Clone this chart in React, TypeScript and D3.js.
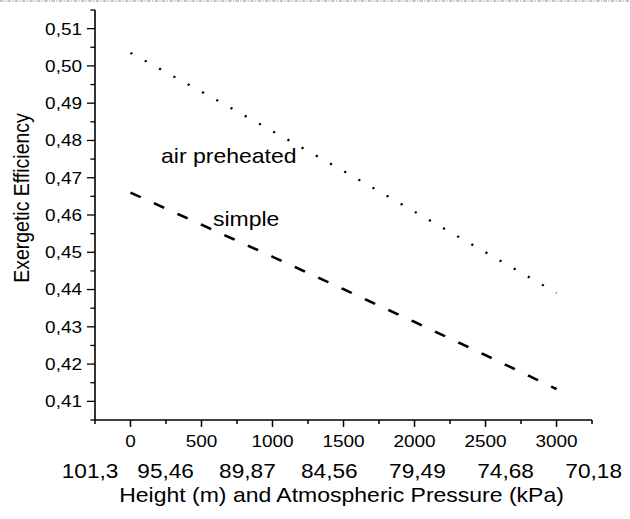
import React from 'react';
import * as d3 from 'd3';

const heights = [0, 500, 1000, 1500, 2000, 2500, 3000];
const airPreheated = [0.5035, 0.4931, 0.4825, 0.4718, 0.4609, 0.45, 0.4391];
const simple = [0.466, 0.4574, 0.4488, 0.4401, 0.4313, 0.4224, 0.4133];
const xMajorTicks = [0, 500, 1000, 1500, 2000, 2500, 3000];
const xMinorTicks = [-250, 250, 750, 1250, 1750, 2250, 2750, 3250];
const yMajorTicks = [0.41, 0.42, 0.43, 0.44, 0.45, 0.46, 0.47, 0.48, 0.49, 0.5, 0.51];
const yMinorTicks = [0.405, 0.415, 0.425, 0.435, 0.445, 0.455, 0.465, 0.475, 0.485, 0.495, 0.505, 0.515];
const pressureRow = '101,3   95,46    89,87    84,56     79,49     74,68     70,18';
const xTitle = 'Height (m) and Atmospheric Pressure (kPa)';
const yTitle = 'Exergetic Efficiency';
const seriesLabels = ['air preheated', 'simple'];

const SX = 1.15;
const VW = 630 / SX;
const FONT = '"Liberation Sans", Arial, sans-serif';

export default function App() {
  const x = d3.scaleLinear().domain([-250, 3250]).range([82.6, 514.8]);
  const y = d3.scaleLinear().domain([0.405, 0.515]).range([420, 10]);
  const line = d3
    .line<number>()
    .x((_, i) => x(heights[i]))
    .y((d) => y(d));
  const fmt = (v: number) => d3.format('.2f')(v).replace('.', ',');
  const x0 = x.range()[0];
  const x1 = x.range()[1];
  const yB = y.range()[0];
  const yT = y.range()[1];

  return (
    <svg
      width={630}
      height={519}
      viewBox={`0 0 ${VW} 519`}
      preserveAspectRatio="none"
      style={{ position: 'absolute', left: 0, top: 0, background: '#fff' }}
      fontFamily={FONT}
    >
      <rect x={0} y={0} width={VW} height={519} fill="#fff" />
      <line x1={0} x2={VW} y1={1} y2={1} stroke="#7f8c9f" strokeWidth={1} strokeDasharray="3,1.2,1,1.2" />

      {/* series */}
      <path d={line(simple) || ''} fill="none" stroke="#000" strokeWidth={2.5} strokeDasharray="10,13" />
      <path d={line(airPreheated) || ''} fill="none" stroke="#000" strokeWidth={2.2} strokeDasharray="1.9,12.8" />

      {/* axes */}
      <line x1={x0} x2={x0} y1={yT} y2={yB} stroke="#000" strokeWidth={1.4} />
      <line x1={x0} x2={x1} y1={yB} y2={yB} stroke="#000" strokeWidth={1.4} />

      {yMajorTicks.map((t) => (
        <g key={'ym' + t}>
          <line x1={x0 - 7} x2={x0} y1={y(t)} y2={y(t)} stroke="#000" strokeWidth={1.3} />
          <text x={71.3} y={y(t)} dy="0.36em" textAnchor="end" fontSize={16.5} fill="#000">
            {fmt(t)}
          </text>
        </g>
      ))}
      {yMinorTicks.map((t) => (
        <line key={'yn' + t} x1={x0 - 4} x2={x0} y1={y(t)} y2={y(t)} stroke="#000" strokeWidth={1.3} />
      ))}
      {xMajorTicks.map((t) => (
        <g key={'xm' + t}>
          <line x1={x(t)} x2={x(t)} y1={yB} y2={yB + 7} stroke="#000" strokeWidth={1.3} />
          <text x={x(t)} y={447} textAnchor="middle" fontSize={16.5} fill="#000">
            {t}
          </text>
        </g>
      ))}
      {xMinorTicks.map((t) => (
        <line key={'xn' + t} x1={x(t)} x2={x(t)} y1={yB} y2={yB + 4} stroke="#000" strokeWidth={1.3} />
      ))}

      <text x={53.7} y={478.5} fontSize={19.7} fill="#000" style={{ whiteSpace: 'pre' }} xmlSpace="preserve">
        {pressureRow}
      </text>
      <text x={297} y={502} textAnchor="middle" fontSize={20} fill="#000">
        {xTitle}
      </text>
      <text
        transform={`translate(25.3, 198) rotate(-90)`}
        textAnchor="middle"
        fontSize={19.5}
        fill="#000"
      >
        {yTitle}
      </text>

      <text x={140} y={162.7} fontSize={20} fill="#000">
        {seriesLabels[0]}
      </text>
      <text x={185.2} y={226} fontSize={20} fill="#000">
        {seriesLabels[1]}
      </text>
    </svg>
  );
}
